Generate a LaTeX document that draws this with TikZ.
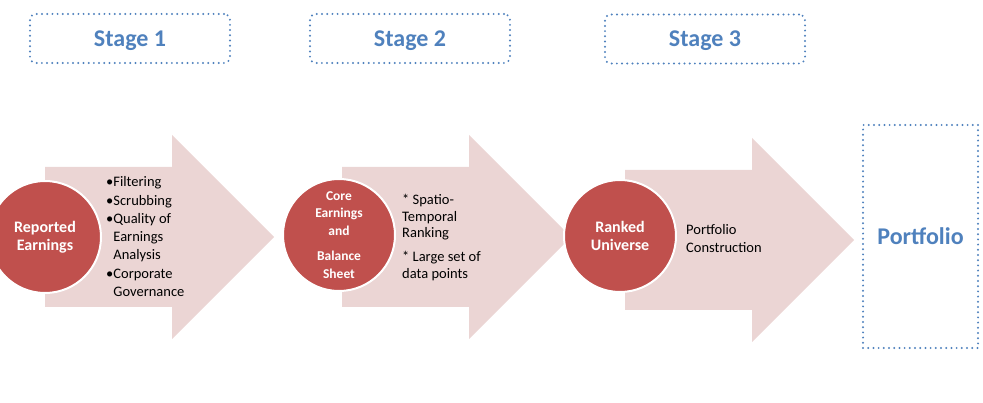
\documentclass[tikz,border=0pt]{standalone}
\usepackage{fontspec}
\setmainfont{Carlito}
\usetikzlibrary{positioning}
\definecolor{stageblue}{HTML}{4F81BD}
\definecolor{discred}{HTML}{C0504D}
\definecolor{arrowpink}{HTML}{EBD5D4}

\begin{document}
\begin{tikzpicture}[x=1pt, y=-1pt,
    stagebox/.style={
      draw=stageblue, line width=2.2pt, dash pattern=on 0pt off 5.2pt,
      line cap=round, rectangle, rounded corners=6pt,
      minimum width=200pt, minimum height=49pt,
      font=\fontsize{24}{28}\selectfont\bfseries, text=stageblue,
    },
    resultbox/.style={stagebox, rounded corners=0pt,
      minimum width=115pt, minimum height=223pt},
    disc/.style={
      circle, fill=discred, draw=white, line width=2pt,
      minimum size=112pt, inner sep=0pt,
      text=white, font=\fontsize{16}{18.5}\selectfont\bfseries, align=center,
    },
    bigarrow/.style={fill=arrowpink},
    info/.style={
      font=\fontsize{14.5}{18.3}\selectfont, anchor=north west,
      align=left, inner sep=0pt,
    },
    stagelabel/.style={font=\fontsize{24}{28}\selectfont\bfseries, text=stageblue},
]
\useasboundingbox (0,0) rectangle (983,403);

% Stage headers
\node[stagebox] (st1) at (130,38.5) {};
\node[stagebox] (st2) at (410,38.5) {};
\node[stagebox] (st3) at (705,39)   {};
\node[stagelabel, yshift=-2pt] at (st1) {Stage 1};
\node[stagelabel, yshift=-2pt] at (st2) {Stage 2};
\node[stagelabel, yshift=-2pt] at (st3) {Stage 3};

% Block arrows
\foreach \ax/\ay in {45/0, 342/0, 625/3}
  \fill[bigarrow] (\ax,\ay) ++(0,167) -- ++(127,0) -- ++(0,-32) -- ++(102,102)
      -- ++(-102,102) -- ++(0,-32) -- ++(-127,0) -- cycle;

% Discs
\node[disc] (rep) at (45,237) {Reported\\Earnings};
\node[disc, font=\fontsize{13.5}{17.5}\selectfont\bfseries] (core) at (339,235)
    {Core\\Earnings\\and\\[8pt]Balance\\Sheet};
\node[disc] (rank) at (620,236) {Ranked\\Universe};

% Step notes
\node[info] (steps1) at (106,176.5) {\textbullet Filtering\\
                                     \textbullet Scrubbing\\
                                     \textbullet Quality of\\
                                     \hphantom{\textbullet}Earnings\\
                                     \hphantom{\textbullet}Analysis\\
                                     \textbullet Corporate\\
                                     \hphantom{\textbullet}Governance};
\node[info, font=\fontsize{14.5}{16.5}\selectfont] (steps2) at (402,194.5)
    {* Spatio-\\Temporal\\Ranking\\[7.5pt]* Large set of\\data points};
\node[info, font=\fontsize{14.5}{18}\selectfont] (steps3) at (686,224.5)
    {Portfolio\\Construction};

% Result
\node[resultbox] (port) at (920.5,236.5) {Portfolio};
\end{tikzpicture}
\end{document}
